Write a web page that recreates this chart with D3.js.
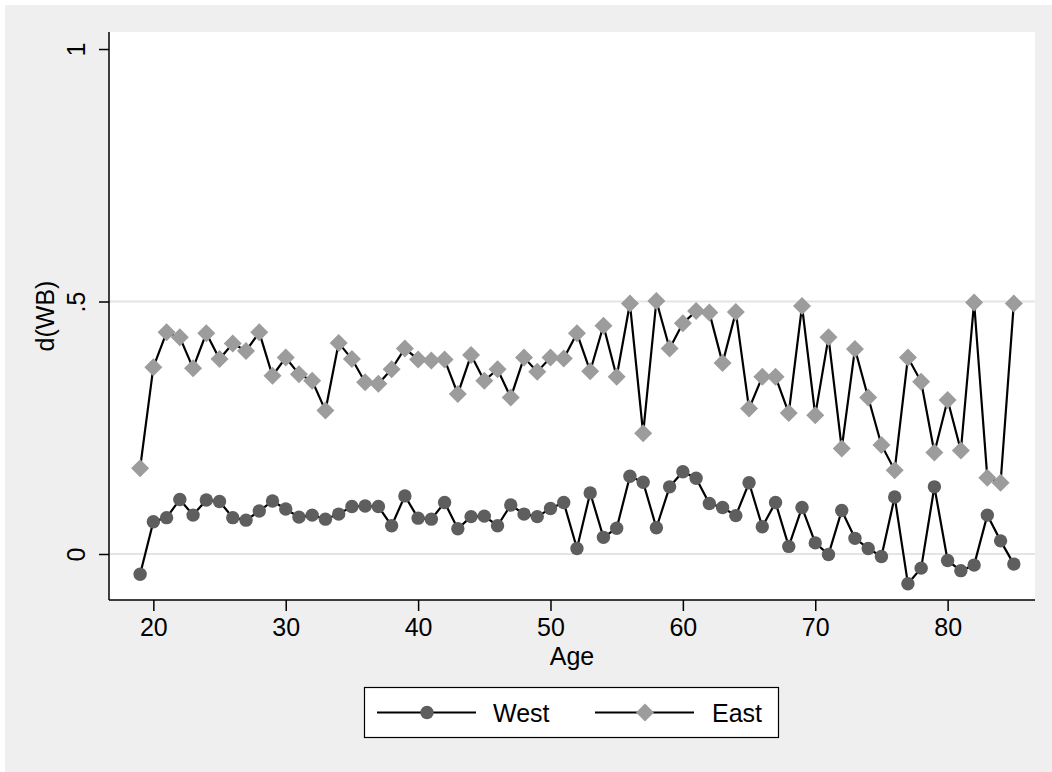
<!DOCTYPE html>
<html><head><meta charset="utf-8">
<script src="https://cdn.jsdelivr.net/npm/d3@7"></script>
<style>body{margin:0;background:#fff}svg{display:block;font-family:Arial,"Liberation Sans",sans-serif}</style>
</head><body><svg id="c" width="1052" height="772"></svg>
<script>
const ages = d3.range(19, 86);
const west = [-0.040,0.064,0.072,0.108,0.077,0.107,0.104,0.072,0.067,0.085,0.105,0.089,0.073,0.077,0.069,0.079,
0.094,0.095,0.094,0.056,0.115,0.071,0.069,0.102,0.050,0.074,0.075,0.056,0.097,0.079,0.074,0.090,0.102,
0.011,0.121,0.033,0.051,0.154,0.142,0.052,0.133,0.163,0.150,0.100,0.092,0.076,0.141,0.054,0.102,0.015,
0.092,0.022,-0.001,0.086,0.031,0.011,-0.005,0.113,-0.059,-0.028,0.133,-0.013,-0.033,-0.022,0.077,0.026,-0.020];
const east = [0.170,0.370,0.439,0.429,0.368,0.437,0.386,0.417,0.402,0.439,0.353,0.389,0.356,0.343,0.284,0.418,
0.386,0.340,0.337,0.366,0.407,0.385,0.383,0.385,0.317,0.394,0.343,0.366,0.310,0.389,0.361,0.389,0.387,
0.437,0.362,0.452,0.351,0.496,0.239,0.501,0.407,0.457,0.481,0.478,0.378,0.479,0.288,0.351,0.351,0.279,
0.491,0.275,0.429,0.209,0.406,0.310,0.216,0.166,0.389,0.341,0.201,0.305,0.205,0.498,0.151,0.141,0.496];
const xTicks = [20,30,40,50,60,70,80];
const yTicks = [0,0.5,1];
const yTickLabels = ["0",".5","1"];
const seriesNames = ["West","East"];

const svg = d3.select("#c");
const L=109,R=1035,T=32,B=600;
const x = d3.scaleLinear().domain([16.65,86.6]).range([L,R]);
const y = d3.scaleLinear().domain([-0.0911,1.0337]).range([B,T]);
const westCol="#5e5e5e", eastCol="#9c9c9c";
const FS=25;

svg.append("rect").attr("x",5).attr("y",5).attr("width",1047).attr("height",767).attr("fill","#efefef");
svg.append("rect").attr("x",L).attr("y",T).attr("width",R-L).attr("height",B-T).attr("fill","#fff");

// gridlines
svg.append("g").selectAll("line").data([0,0.5]).join("line")
  .attr("x1",L).attr("x2",R).attr("y1",d=>y(d)).attr("y2",d=>y(d))
  .attr("stroke","#e4e4e4").attr("stroke-width",2);

// axes
const yAx = svg.append("g").attr("transform",`translate(${L},0)`)
  .call(d3.axisLeft(y).tickValues(yTicks).tickSize(10).tickPadding(14).tickFormat((d,i)=>yTickLabels[i]));
yAx.select(".domain").attr("d",`M0,${T}V${B}`).attr("stroke","#000").attr("stroke-width",1.5);
yAx.selectAll(".tick line").attr("stroke","#000").attr("stroke-width",1.5);
yAx.selectAll(".tick text").attr("font-size",FS).attr("fill","#000").attr("font-family","Arial, 'Liberation Sans', sans-serif")
  .attr("text-anchor","middle").attr("dy",0).attr("x",0).attr("y",0)
  .attr("transform","translate(-24,0) rotate(-90)");

const xAx = svg.append("g").attr("transform",`translate(0,${B})`)
  .call(d3.axisBottom(x).tickValues(xTicks).tickSize(11).tickPadding(7).tickFormat(d3.format("d")));
xAx.select(".domain").attr("d",`M${L},0H${R}`).attr("stroke","#000").attr("stroke-width",1.5);
xAx.selectAll(".tick line").attr("stroke","#000").attr("stroke-width",1.5);
xAx.selectAll(".tick text").attr("font-size",FS).attr("fill","#000").attr("font-family","Arial, 'Liberation Sans', sans-serif");

svg.append("text").attr("x",572).attr("y",665).attr("text-anchor","middle").attr("font-size",FS).text("Age");
svg.append("text").attr("transform","translate(54,316) rotate(-90)").attr("text-anchor","middle").attr("font-size",FS).text("d(WB)");

const line = d3.line().x((d,i)=>x(ages[i])).y(d=>y(d));
const plot = svg.append("g");
plot.append("path").datum(west).attr("d",line).attr("fill","none").attr("stroke","#000").attr("stroke-width",2.2);
plot.append("path").datum(east).attr("d",line).attr("fill","none").attr("stroke","#000").attr("stroke-width",2.2);
plot.selectAll("circle.w").data(west).join("circle").attr("class","w")
  .attr("cx",(d,i)=>x(ages[i])).attr("cy",d=>y(d)).attr("r",6.7).attr("fill",westCol);
const diamond = s=>`M0,${-s}L${s},0L0,${s}L${-s},0Z`;
plot.selectAll("path.e").data(east).join("path").attr("class","e")
  .attr("transform",(d,i)=>`translate(${x(ages[i])},${y(d)})`).attr("d",diamond(9)).attr("fill",eastCol);

// legend
const lg = svg.append("g");
lg.append("rect").attr("x",364.5).attr("y",687.5).attr("width",414).attr("height",50).attr("fill","#fff").attr("stroke","#000").attr("stroke-width",1.2);
const items=[{n:seriesNames[0],x0:377,tx:493,m:"c"},{n:seriesNames[1],x0:595,tx:712,m:"d"}];
items.forEach(it=>{
  lg.append("line").attr("x1",it.x0).attr("x2",it.x0+99).attr("y1",712.5).attr("y2",712.5).attr("stroke","#000").attr("stroke-width",2.2);
  if(it.m==="c") lg.append("circle").attr("cx",it.x0+50).attr("cy",712.5).attr("r",6.7).attr("fill",westCol);
  else lg.append("path").attr("transform",`translate(${it.x0+50},712.5)`).attr("d",diamond(9)).attr("fill",eastCol);
  lg.append("text").attr("x",it.tx).attr("y",722).attr("font-size",FS).text(it.n);
});
</script></body></html>
